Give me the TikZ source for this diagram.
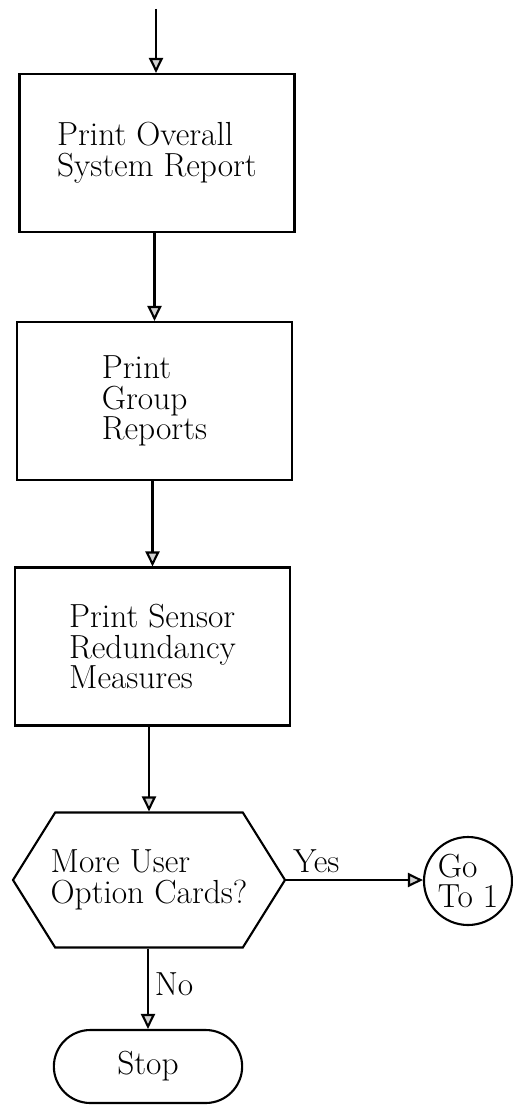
\documentclass[tikz,border=0pt]{standalone}
\usepackage{tikz}
\usetikzlibrary{arrows.meta,positioning,shapes.symbols,shapes.misc}

\begin{document}
\begin{tikzpicture}[
  proc/.style={draw, line width=1.2pt, minimum width=5.5cm, minimum height=3.16cm,
               align=left, font=\fontsize{19}{17.5}\selectfont},
  decis/.style={draw, line width=1.2pt, signal, signal to=west and east, signal pointer angle=116,
                inner xsep=-0.15cm, minimum width=5.44cm, minimum height=2.7cm, align=left,
                font=\fontsize{19}{17.5}\selectfont},
  term/.style={draw, line width=1.2pt, rounded rectangle, minimum width=4cm, minimum height=1.46cm,
               font=\fontsize{19}{17.5}\selectfont},
  conn/.style={draw, line width=1.2pt, circle, minimum size=1.76cm, inner sep=0pt, align=left,
               font=\fontsize{19}{17.5}\selectfont},
  lbl/.style={font=\fontsize{19}{17.5}\selectfont},
  flow/.style={-{Triangle[width=0.28cm,length=0.3cm,fill=gray!35]}, line width=1.2pt}]
\useasboundingbox (0,0) rectangle (10.26,-22.14);
\coordinate (inicio) at (3.12,-0.18);
\node[proc] (overall) at (3.14,-3.06) {Print Overall\\System Report};
\node[proc] (group)   at (3.09,-8.02) {Print\\Group\\Reports};
\node[proc] (sensor)  at (3.05,-12.93) {Print Sensor\\Redundancy\\Measures};
\node[decis] (more)   at (2.98,-17.6) {More User\\Option Cards?};
\node[conn] (goto)    at (9.36,-17.62) {Go\\To 1};
\node[term] (stop)    at (2.96,-21.33) {Stop};
\draw[flow] (inicio) -- (inicio |- overall.north);
\foreach \a/\b in {overall/group, group/sensor, sensor/more, more/stop}
  \draw[flow] (\b.north |- \a.south) -- (\b.north);
\draw[flow] (more.east) -- node[lbl, above, pos=0.22] {Yes} (more.east -| goto.west);
\path (more.south) -- node[lbl, right, pos=0.44] {No} (stop.north);
\end{tikzpicture}
\end{document}
